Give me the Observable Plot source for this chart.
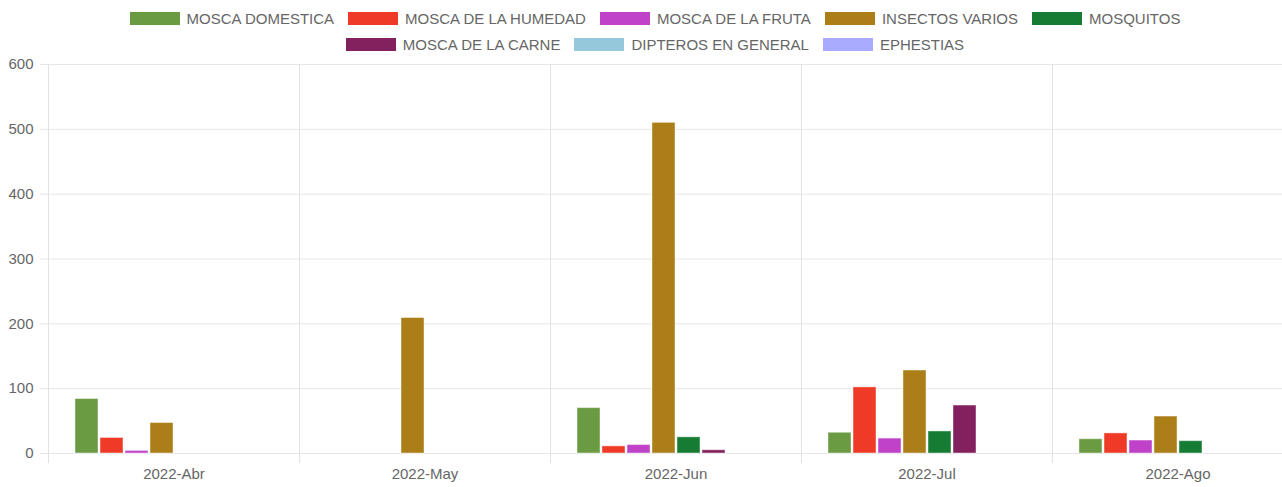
<!DOCTYPE html>
<html>
<head>
<meta charset="utf-8">
<script src="https://cdn.jsdelivr.net/npm/d3@7"></script>
<script src="https://cdn.jsdelivr.net/npm/@observablehq/plot@0.6"></script>
<style>
  html, body { margin: 0; padding: 0; background: #fff; overflow: hidden; }
  body { font-family: "Liberation Sans", Arial, Helvetica, sans-serif; width: 1310px; }
  #legend { width: 1310px; height: 57px; box-sizing: border-box; padding-top: 5px; font-size: 15px; color: #666; }
  .row { display: flex; justify-content: center; height: 26px; align-items: center; white-space: nowrap; }
  .item { display: flex; align-items: center; margin: 0 7px; }
  .sw { width: 50px; height: 13px; margin-right: 7px; box-sizing: border-box; }
  #chart svg { max-width: none !important; }
</style>
</head>
<body>
<div id="legend"></div>
<div id="chart"></div>
<script>
const months = ["2022-Abr", "2022-May", "2022-Jun", "2022-Jul", "2022-Ago"];
const seriesNames = ["MOSCA DOMESTICA", "MOSCA DE LA HUMEDAD", "MOSCA DE LA FRUTA", "INSECTOS VARIOS", "MOSQUITOS", "MOSCA DE LA CARNE", "DIPTEROS EN GENERAL", "EPHESTIAS"];
const seriesColors = ["#6a9a42", "#ef3a27", "#bf42c8", "#ab7e17", "#167b33", "#83215f", "#96c8dc", "#a9abff"];
const legendRows = [[0, 1, 2, 3, 4], [5, 6, 7]];

const moscaDomestica = [84, 0, 70, 32, 22];
const moscaHumedad = [24, 0, 11, 102, 31];
const moscaFruta = [4, 0, 13, 23, 20];
const insectosVarios = [47, 209, 510, 128, 57];
const mosquitos = [0, 0, 25, 34, 19];
const moscaCarne = [0, 0, 5, 74, 0];
const dipteros = [0, 0, 0, 0, 0];
const ephestias = [0, 0, 0, 0, 0];
const yTicks = [0, 100, 200, 300, 400, 500, 600];

const allSeries = [moscaDomestica, moscaHumedad, moscaFruta, insectosVarios, mosquitos, moscaCarne, dipteros, ephestias];
const data = [];
allSeries.forEach((vals, si) => vals.forEach((v, mi) => {
  if (v > 0) data.push({ month: months[mi], series: seriesNames[si], value: v });
}));

// Legend
const legend = document.getElementById("legend");
legendRows.forEach(row => {
  const r = document.createElement("div");
  r.className = "row";
  row.forEach(i => {
    const it = document.createElement("div");
    it.className = "item";
    const sw = document.createElement("span");
    sw.className = "sw";
    sw.style.background = seriesColors[i];
    it.appendChild(sw);
    const t = document.createElement("span");
    t.textContent = seriesNames[i];
    it.appendChild(t);
    r.appendChild(it);
  });
  legend.appendChild(r);
});

const chart = Plot.plot({
  width: 1310,
  height: 430,
  marginTop: 7,
  marginBottom: 34,
  marginLeft: 48,
  marginRight: 7,
  style: { fontFamily: "'Liberation Sans', Arial, sans-serif", fontSize: "15px", color: "#666", background: "#fff", overflow: "visible", maxWidth: "none" },
  fx: { domain: months, padding: 0 },
  x: { domain: seriesNames, paddingInner: 0.1, paddingOuter: 1.05, axis: null },
  y: { domain: [0, 600] },
  color: { domain: seriesNames, range: seriesColors },
  marks: [
    Plot.gridY(yTicks, { stroke: "#e6e6e6", strokeOpacity: 1 }),
    Plot.frame({ anchor: "left", stroke: "#e2e2e2", strokeOpacity: 1, insetBottom: -9 }),
    Plot.axisY(yTicks, { tickSize: 8, tickPadding: 7, stroke: "#e6e6e6", fill: "#666", label: null }),
    Plot.axisFx({ anchor: "bottom", tickSize: 0, tickPadding: 15, fill: "#666", label: null }),
    Plot.barY(data, { fx: "month", x: "series", y: "value", fill: "series", stroke: "#fff", strokeOpacity: 0.45, strokeWidth: 1 })
  ]
});
document.getElementById("chart").appendChild(chart);
</script>
</body>
</html>
